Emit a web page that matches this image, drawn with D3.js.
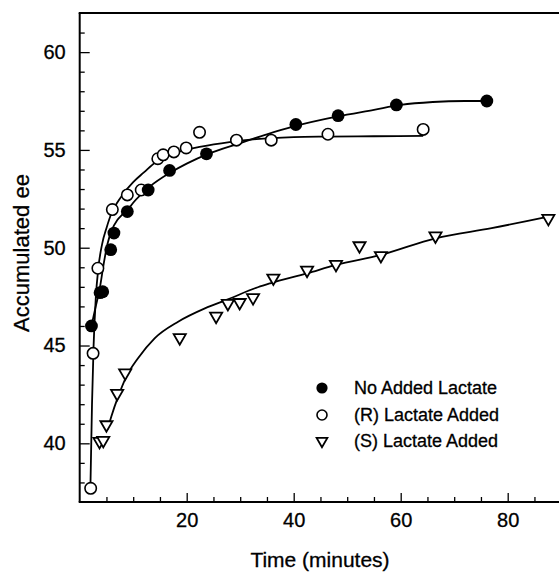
<!DOCTYPE html>
<html><head><meta charset="utf-8">
<script src="https://cdn.jsdelivr.net/npm/d3@7"></script>
<style>
body{margin:0;background:#fff}
svg{display:block}
text{font-family:"Liberation Sans",Arial,Helvetica,sans-serif;fill:#000;stroke:#000;stroke-width:0.3px}
</style>
</head><body>
<svg id="chart" width="559" height="575"></svg>
<script>
// ---- data ----
const noAddedT  = [2.2, 3.8, 4.3, 5.8, 6.4, 8.9, 12.8, 16.8, 23.7, 40.4, 48.3, 59.2, 76.1];
const noAddedEE = [46.0, 47.7, 47.75, 49.9, 50.75, 51.85, 52.95, 53.95, 54.8, 56.3, 56.75, 57.3, 57.5];

const rAddedT  = [2.05, 2.5, 3.4, 6.1, 8.9, 11.5, 14.6, 15.6, 17.6, 19.9, 22.4, 29.3, 35.8, 46.4, 64.2];
const rAddedEE = [37.7, 44.6, 48.95, 51.95, 52.7, 52.95, 54.55, 54.75, 54.9, 55.1, 55.9, 55.5, 55.5, 55.8, 56.05];

const sAddedT  = [3.7, 4.4, 5.0, 7.0, 8.5, 18.7, 25.5, 27.7, 29.9, 32.4, 36.2, 42.5, 47.9, 52.3, 56.3, 66.5, 87.6];
const sAddedEE = [40.1, 40.15, 40.95, 42.55, 43.6, 45.4, 46.5, 47.15, 47.2, 47.45, 48.45, 48.85, 49.15, 50.1, 49.6, 50.6, 51.5];

// fitted curves
const noAddedFitT  = [2.2, 3.0, 3.8, 4.5, 5.2, 6.0, 7.0, 8.0, 9.0, 10, 13, 17, 20, 24, 30, 35, 40, 48, 55, 60, 66, 72, 76.1];
const noAddedFitEE = [46.0, 47.0, 48.0, 49.2, 50.2, 50.9, 51.4, 51.7, 51.95, 52.3, 53.1, 53.85, 54.3, 54.8, 55.35, 55.8, 56.2, 56.7, 57.05, 57.3, 57.45, 57.5, 57.5];

const rFitT  = [2.0, 2.3, 2.6, 3.0, 3.5, 4.2, 5.0, 6.0, 7.0, 8.0, 10, 12, 14.3, 16, 18.4, 22.7, 28, 33, 40, 46, 55, 64.2];
const rFitEE = [37.7, 42.0, 45.0, 47.4, 49.0, 50.2, 51.0, 51.8, 52.3, 52.7, 53.35, 53.85, 54.4, 54.65, 54.9, 55.17, 55.4, 55.55, 55.65, 55.68, 55.7, 55.72];

const sFitT  = [5.2, 5.9, 7.2, 8.7, 10.9, 14.0, 18.4, 23.4, 27.7, 33.3, 35.6, 42.5, 47.9, 56.3, 66.5, 77, 87.6];
const sFitEE = [40.7, 41.36, 42.4, 43.4, 44.35, 45.37, 46.22, 46.9, 47.36, 47.98, 48.18, 48.69, 49.12, 49.63, 50.48, 51.0, 51.59];

const xMajorTicks = [20, 40, 60, 80];
const xMinorTicks = [5, 10, 15, 25, 30, 35, 45, 50, 55, 65, 70, 75, 85];
const yMajorTicks = [40, 45, 50, 55, 60];
const yMinorTicks = [38, 39, 41, 42, 43, 44, 46, 47, 48, 49, 51, 52, 53, 54, 56, 57, 58, 59, 61];

const legendLabels = ["No Added Lactate", "(R) Lactate Added", "(S) Lactate Added"];
const xTitle = "Time (minutes)";
const yTitle = "Accumulated ee";

// ---- drawing ----
const svg = d3.select("#chart");
const x = d3.scaleLinear().domain([0, 90]).range([79.7, 561.2]);
const y = d3.scaleLinear().domain([37, 62]).range([502, 13]);

const zip = (a, b) => a.map((v, i) => [v, b[i]]);
const FONT = "Liberation Sans, Arial, sans-serif";

// axes
const gx = svg.append("g").attr("transform", `translate(0,${y(37)})`);
gx.call(d3.axisBottom(x).tickValues(xMajorTicks).tickSizeInner(-9).tickSizeOuter(0).tickPadding(11).tickFormat(d3.format("d")));
gx.append("g").call(d3.axisBottom(x).tickValues(xMinorTicks).tickSizeInner(-5).tickSizeOuter(0).tickFormat(""));
gx.selectAll(".domain").remove();
gx.selectAll("line").attr("stroke", "#000").attr("stroke-width", 1.3);
gx.selectAll("text").attr("font-size", 20).attr("font-family", FONT).attr("fill", "#000");

const gy = svg.append("g").attr("transform", `translate(${x(0)},0)`);
gy.call(d3.axisLeft(y).tickValues(yMajorTicks).tickSizeInner(-10).tickSizeOuter(0).tickPadding(14).tickFormat(d3.format("d")));
gy.append("g").call(d3.axisLeft(y).tickValues(yMinorTicks).tickSizeInner(-5).tickSizeOuter(0).tickFormat(""));
gy.selectAll(".domain").remove();
gy.selectAll("line").attr("stroke", "#000").attr("stroke-width", 1.3);
gy.selectAll("text").attr("font-size", 20).attr("font-family", FONT).attr("fill", "#000");

// frame lines (left, bottom, top)
svg.append("line").attr("x1", x(0)).attr("x2", x(0)).attr("y1", y(62)).attr("y2", y(37)).attr("stroke", "#000").attr("stroke-width", 2);
svg.append("line").attr("x1", x(0) - 1).attr("x2", 559).attr("y1", y(37)).attr("y2", y(37)).attr("stroke", "#000").attr("stroke-width", 2);
svg.append("line").attr("x1", x(0) - 1).attr("x2", 559).attr("y1", y(62)).attr("y2", y(62)).attr("stroke", "#000").attr("stroke-width", 2);

// fitted curves
const line = d3.line().x(d => x(d[0])).y(d => y(d[1])).curve(d3.curveMonotoneX);
[[noAddedFitT, noAddedFitEE], [rFitT, rFitEE], [sFitT, sFitEE]].forEach(([t, e]) => {
  svg.append("path").attr("d", line(zip(t, e))).attr("fill", "none").attr("stroke", "#000").attr("stroke-width", 1.8);
});

// markers
function drawTri(g, cx, cy, sz) {
  g.append("path").attr("d", d3.symbol().type(d3.symbolTriangle).size(sz)())
    .attr("transform", `translate(${cx},${cy}) rotate(180)`)
    .attr("fill", "#fff").attr("stroke", "#000").attr("stroke-width", 1.8);
}
const gm = svg.append("g");
zip(sAddedT, sAddedEE).forEach(d => drawTri(gm, x(d[0]), y(d[1]), 64));
gm.selectAll("circle.r").data(zip(rAddedT, rAddedEE)).join("circle").attr("class", "r")
  .attr("cx", d => x(d[0])).attr("cy", d => y(d[1])).attr("r", 5.7)
  .attr("fill", "#fff").attr("stroke", "#000").attr("stroke-width", 1.6);
gm.selectAll("circle.n").data(zip(noAddedT, noAddedEE)).join("circle").attr("class", "n")
  .attr("cx", d => x(d[0])).attr("cy", d => y(d[1])).attr("r", 6.4)
  .attr("fill", "#000");

// legend
const lg = svg.append("g");
const legY = [388, 415, 441];
lg.append("circle").attr("cx", 322).attr("cy", legY[0]).attr("r", 5.6).attr("fill", "#000");
lg.append("circle").attr("cx", 322).attr("cy", legY[1]).attr("r", 5).attr("fill", "#fff").attr("stroke", "#000").attr("stroke-width", 1.6);
drawTri(lg, 322, legY[2], 50);
legendLabels.forEach((t, i) => {
  lg.append("text").attr("x", 354).attr("y", legY[i]).attr("dy", "0.35em").attr("font-size", 18).text(t);
});

// axis titles
svg.append("text").attr("x", 320).attr("y", 560).attr("dy", "0.35em").attr("text-anchor", "middle").attr("font-size", 21).text(xTitle);
svg.append("text").attr("transform", "translate(21,253) rotate(-90)").attr("dy", "0.35em").attr("text-anchor", "middle").attr("font-size", 22).text(yTitle);
</script>
</body></html>
